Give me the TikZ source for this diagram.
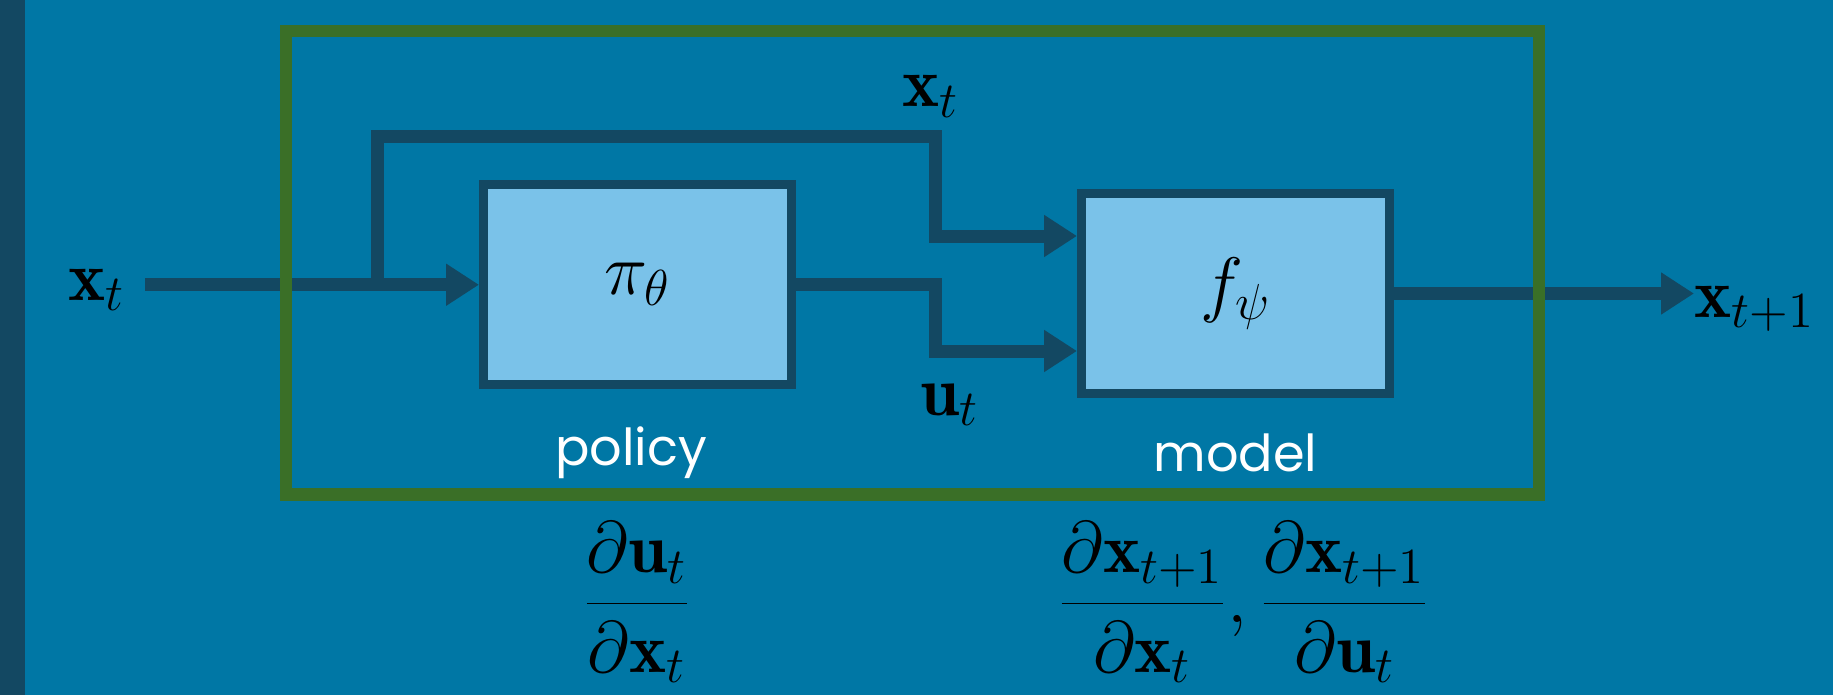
\documentclass[tikz,border=0pt]{standalone}
\usepackage{fontspec}
\newfontfamily\labelfont{Poppins}
\usetikzlibrary{arrows.meta,positioning}
\definecolor{slide}{HTML}{0077A5}
\definecolor{wirec}{HTML}{134862}
\definecolor{boxfill}{HTML}{7AC2E9}
\definecolor{framegreen}{HTML}{3A6F27}
\begin{document}
\begin{tikzpicture}[x=0.1mm, y=-0.1mm,
    block/.style={draw=wirec, fill=boxfill, line width=0.9mm, minimum width=30.8mm,
      minimum height=20mm, font=\fontsize{20}{24}\selectfont},
    wire/.style={draw=wirec, line width=1.3mm, line join=miter},
    arr/.style={wire, -{Triangle[length=3.3mm, width=4mm]}},
    sig/.style={inner sep=0pt, font=\fontsize{20}{24}\selectfont},
    caption/.style={inner sep=0pt, text=white, font=\labelfont\fontsize{14.5}{17}\selectfont}]
    \useasboundingbox (0,0) rectangle (1833,695);
    \fill[slide] (0,0) rectangle (1833,695);
    \fill[wirec] (0,0) rectangle (25,695);
    % Nodes
    \node[block] (policy) at (637.5,284.75) {$\pi_\theta$};
    \node[block] (model)  at (1235.5,293.5) {$f_\psi$};
    \node[sig, anchor=base east] (xin)  at (126,300) {$\mathbf{x}_t$};
    \node[sig, anchor=base west] (xout) at (1694,317) {$\mathbf{x}_{t+1}$};
    \node[sig, anchor=base] (xtop) at (931,107) {$\mathbf{x}_t$};
    \node[sig, anchor=base] (ut)   at (950,415) {$\mathbf{u}_t$};
    \node[caption, anchor=base] (policylbl) at (631,465) {policy};
    \node[caption, anchor=base] (modellbl)  at (1235.5,471) {model};
    \node[sig, anchor=base] (dpolicy) at (637,622)
      {$\displaystyle\frac{\partial\mathbf{u}_t}{\partial\mathbf{x}_t}$};
    \node[sig, anchor=base] (dmodel) at (1243.5,622)
      {$\displaystyle\frac{\partial\mathbf{x}_{t+1}}{\partial\mathbf{x}_t},
        \frac{\partial\mathbf{x}_{t+1}}{\partial\mathbf{u}_t}$};
    \path (policy.west) ++(-102,0) coordinate (split);
    \coordinate (hop) at (935.5,136);
    % Edges
    \draw[arr, shorten <=1.9mm] (xin.east |- policy.west) -- (policy.west);
    \draw[arr] (split) |- (hop) |- ([yshift=5.75mm]model.west);
    \draw[arr] (policy.east) -- (policy.east -| hop) |- ([yshift=-5.75mm]model.west);
    \draw[arr] (model.east) -- (model.east -| xout.west);
    % Frame around policy and model
    \draw[draw=framegreen, line width=1.25mm] (286,31) rectangle (1539,494.5);
\end{tikzpicture}
\end{document}
